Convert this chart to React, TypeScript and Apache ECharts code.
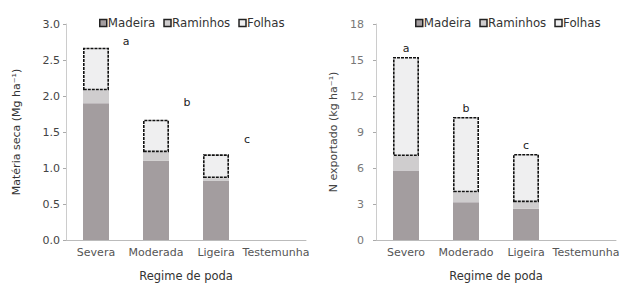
import React, { useEffect, useRef } from "react";
import * as echarts from "echarts";

const categoriesLeft = ["Severa", "Moderada", "Ligeira", "Testemunha"];
const categoriesRight = ["Severo", "Moderado", "Ligeira", "Testemunha"];
const yTicksLeft = [0, 0.5, 1.0, 1.5, 2.0, 2.5, 3.0];
const yTicksRight = [0, 3, 6, 9, 12, 15, 18];

// Matéria seca (Mg ha-1), stacked parts
const madeiraLeft = [1.9, 1.1, 0.82, 0];
const raminhosLeft = [0.18, 0.12, 0.04, 0];
const folhasLeft = [0.59, 0.45, 0.33, 0];
const lettersLeft = ["a", "b", "c", ""];

// N exportado (kg ha-1), stacked parts
const madeiraRight = [5.8, 3.15, 2.6, 0];
const raminhosRight = [1.2, 0.82, 0.55, 0];
const folhasRight = [8.25, 6.28, 4.02, 0];
const lettersRight = ["a", "b", "c", ""];

const seriesNames = ["Madeira", "Raminhos", "Folhas"];

const FONT = "DejaVu Sans";
const colMadeira = "#a39d9f";
const colRaminhos = "#cfcdce";
const colFolhas = "#efeff0";
const letterOffsetsLeft = [[30, 2], [31, -9], [31, -6], [0, 0]];

export default function App() {
  const ref = useRef<HTMLDivElement>(null);
  useEffect(() => {
    if (!ref.current) return;
    const chart = echarts.init(ref.current, undefined, { renderer: "svg" });

    const mkSeries = (
      idx: number,
      vals: number[][],
      letters: string[],
      leftStyle: boolean
    ) => {
      const stack = "s" + idx;
      return [
        {
          name: seriesNames[0],
          type: "bar",
          stack,
          xAxisIndex: idx,
          yAxisIndex: idx,
          barWidth: 26,
          data: vals[0],
          itemStyle: { color: colMadeira },
        },
        {
          name: seriesNames[1],
          type: "bar",
          stack,
          xAxisIndex: idx,
          yAxisIndex: idx,
          barWidth: 26,
          data: vals[1],
          itemStyle: { color: colRaminhos },
        },
        {
          name: seriesNames[2],
          type: "bar",
          stack,
          xAxisIndex: idx,
          yAxisIndex: idx,
          barWidth: 26,
          data: vals[2].map((v, i) => ({
            value: v,
            itemStyle: v === 0 ? { borderWidth: 0 } : {},
            label: leftStyle ? { offset: letterOffsetsLeft[i] } : {},
          })),
          itemStyle: {
            color: colFolhas,
            borderColor: "#111",
            borderWidth: 1.6,
            borderType: [3, 1],
          },
          label: {
            show: true,
            position: "top",
            distance: 3,
            color: "#222",
            fontFamily: FONT,
            fontSize: 11,
            formatter: (p: any) => letters[p.dataIndex],
          },
        },
      ];
    };

    const axisCommonX = (data: string[], gridIndex: number) => ({
      type: "category",
      gridIndex,
      data,
      axisLine: { lineStyle: { color: "#bbb", width: 1 } },
      axisTick: { show: false },
      axisLabel: {
        color: "#555",
        fontFamily: FONT,
        fontSize: 11,
        margin: 7,
        interval: 0,
      },
      name: "Regime de poda",
      nameLocation: "middle",
      nameGap: 30,
      nameTextStyle: { color: "#333", fontFamily: FONT, fontSize: 11.5 },
    });

    const legendCommon = (left: number) => ({
      left,
      top: 12,
      itemWidth: 7,
      itemHeight: 7,
      itemGap: 8,
      icon: "rect",
      textStyle: {
        fontFamily: FONT,
        fontSize: 11.8,
        color: "#333",
        padding: [0, 0, 0, -4],
      },
      data: seriesNames.map((n) => ({
        name: n,
        itemStyle: { borderColor: "#222", borderWidth: 1.5 },
      })),
    });

    chart.setOption({
      animation: false,
      legend: [legendCommon(94), legendCommon(410)],
      grid: [
        { left: 66, top: 24, width: 240, height: 216 },
        { left: 376, top: 24, width: 240, height: 216 },
      ],
      xAxis: [axisCommonX(categoriesLeft, 0), axisCommonX(categoriesRight, 1)],
      yAxis: [
        {
          type: "value",
          gridIndex: 0,
          min: yTicksLeft[0],
          max: yTicksLeft[yTicksLeft.length - 1],
          interval: 0.5,
          splitLine: { show: false },
          axisLine: { show: true, lineStyle: { color: "#ccc" } },
          axisTick: { show: true, length: 3, lineStyle: { color: "#aaa" } },
          axisLabel: {
            color: "#444",
            fontFamily: FONT,
            fontSize: 11,
            margin: 6,
            formatter: (v: number) => v.toFixed(1),
          },
          name: "Matéria seca (Mg ha⁻¹)",
          nameLocation: "middle",
          nameGap: 44,
          nameTextStyle: { color: "#333", fontFamily: FONT, fontSize: 11 },
        },
        {
          type: "value",
          gridIndex: 1,
          min: yTicksRight[0],
          max: yTicksRight[yTicksRight.length - 1],
          interval: 3,
          splitLine: { show: false },
          axisLine: { show: true, lineStyle: { color: "#ccc" } },
          axisTick: { show: true, length: 3, lineStyle: { color: "#aaa" } },
          axisLabel: {
            color: "#777",
            fontFamily: FONT,
            fontSize: 11,
            margin: 12,
          },
          name: "N exportado (kg ha⁻¹)",
          nameLocation: "middle",
          nameGap: 37,
          nameTextStyle: { color: "#444", fontFamily: FONT, fontSize: 11 },
        },
      ],
      series: [
        ...mkSeries(0, [madeiraLeft, raminhosLeft, folhasLeft], lettersLeft, true),
        ...mkSeries(1, [madeiraRight, raminhosRight, folhasRight], lettersRight, false),
      ],
    });
    return () => chart.dispose();
  }, []);
  return <div ref={ref} style={{ width: 629, height: 293, position: "absolute", left: 0, top: 0 }} />;
}
